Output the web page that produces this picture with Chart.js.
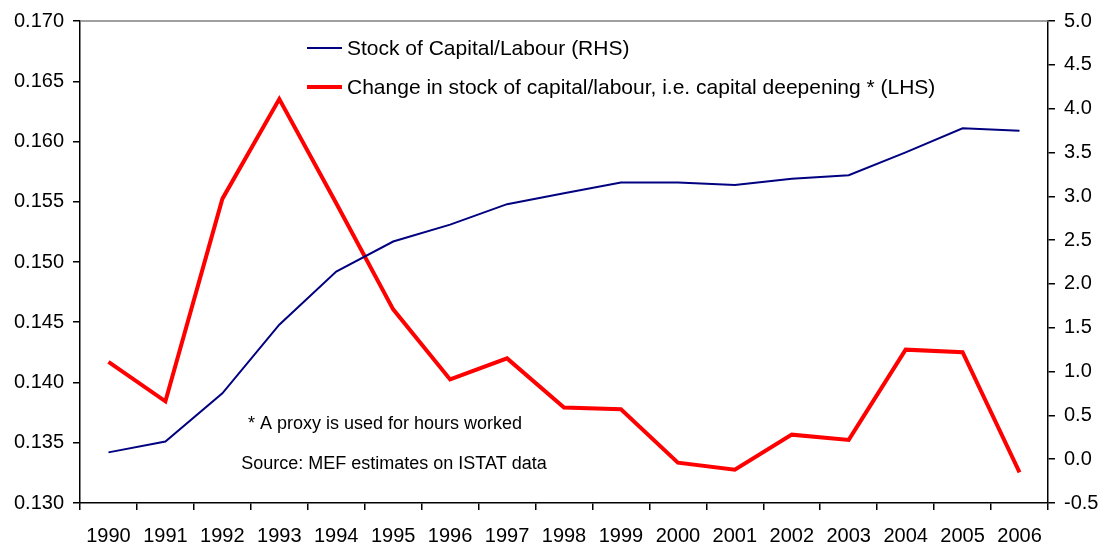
<!DOCTYPE html>
<html>
<head>
<meta charset="utf-8">
<script src="https://cdn.jsdelivr.net/npm/chart.js@4/dist/chart.umd.min.js"></script>
<style>
  html, body { margin: 0; padding: 0; background: #fff; }
  #wrap { width: 1107px; height: 549px; }
</style>
</head>
<body>
<div id="wrap"><canvas id="chart"></canvas></div>
<script>
// data
const years = ["1990", "1991", "1992", "1993", "1994", "1995", "1996", "1997", "1998",
  "1999", "2000", "2001", "2002", "2003", "2004", "2005", "2006"];
const stockValues = [0.1342, 0.1351, 0.1391, 0.1448, 0.1492, 0.1517, 0.1531, 0.1548, 0.1557,
  0.1566, 0.1566, 0.1564, 0.1569, 0.1572, 0.1591, 0.1611, 0.1609];
const changeValues = [1.11, 0.66, 2.97, 4.11, 2.92, 1.71, 0.91, 1.15, 0.59,
  0.57, -0.04, -0.12, 0.28, 0.22, 1.25, 1.22, -0.15];
const stockLabel = "Stock of Capital/Labour (RHS)";
const changeLabel = "Change in stock of capital/labour, i.e. capital deepening * (LHS)";
const notes = ["* A proxy is used for hours worked", "Source: MEF estimates on ISTAT data"];

const FONT = "'Liberation Sans', Arial, sans-serif";

// legend + notes drawn by hand inside the plot
const extras = {
  id: 'extras',
  afterDraw(chart) {
    const ctx = chart.ctx;
    const a = chart.chartArea;
    ctx.save();
    // top border
    ctx.strokeStyle = '#808080';
    ctx.lineWidth = 1.5;
    ctx.beginPath();
    ctx.moveTo(a.left, a.top);
    ctx.lineTo(a.right, a.top);
    ctx.stroke();

    const items = chart.data.datasets;
    const rows = [48, 87];
    items.forEach((ds, i) => {
      ctx.strokeStyle = ds.borderColor;
      ctx.lineWidth = ds.borderWidth;
      ctx.beginPath();
      ctx.moveTo(307, rows[i]);
      ctx.lineTo(342, rows[i]);
      ctx.stroke();
      ctx.fillStyle = '#000';
      ctx.font = '21px ' + FONT;
      ctx.textAlign = 'left';
      ctx.textBaseline = 'middle';
      ctx.fillText(ds.label, 347, rows[i] + 1);
    });

    ctx.font = '18px ' + FONT;
    ctx.textAlign = 'center';
    ctx.fillText(notes[0], 385, 424);
    ctx.fillText(notes[1], 394, 464);
    ctx.restore();
  }
};

new Chart("chart", {
  type: "line",
  data: {
    labels: years,
    datasets: [{
      label: stockLabel,
      data: stockValues,
      borderColor: "#000080",
      borderWidth: 2,
      pointRadius: 0,
      tension: 0,
      yAxisID: "y"
    }, {
      label: changeLabel,
      data: changeValues,
      borderColor: "#ff0000",
      borderWidth: 4,
      pointRadius: 0,
      tension: 0,
      yAxisID: "y1"
    }]
  },
  options: {
    responsive: true,
    maintainAspectRatio: false,
    animation: false,
    layout: { padding: { top: 17, left: 0, right: 0, bottom: 0 } },
    plugins: {
      legend: { display: false },
      tooltip: { enabled: false }
    },
    scales: {
      x: {
        offset: true,
        grid: { offset: true, drawOnChartArea: false, tickLength: 7, tickColor: '#000', lineWidth: 1.5 },
        border: { color: '#000', width: 1.5 },
        ticks: { color: '#000', font: { size: 20, family: FONT }, padding: 14, maxRotation: 0, autoSkip: false },
        afterFit(s) { s.height = 46; }
      },
      y: {
        position: 'left',
        min: 0.13,
        max: 0.17,
        grid: { drawOnChartArea: false, tickLength: 7, tickColor: '#000', lineWidth: 1.5 },
        border: { color: '#000', width: 1.5 },
        ticks: {
          stepSize: 0.005,
          color: '#000',
          font: { size: 20, family: FONT },
          padding: 9,
          callback: v => v.toFixed(3)
        },
        afterFit(s) { s.width = 80; }
      },
      y1: {
        position: 'right',
        min: -0.5,
        max: 5.0,
        grid: { drawOnChartArea: false, tickLength: 7, tickColor: '#000', lineWidth: 1.5 },
        border: { color: '#000', width: 1.5 },
        ticks: {
          stepSize: 0.5,
          color: '#000',
          font: { size: 20, family: FONT },
          padding: 9,
          callback: v => v.toFixed(1)
        },
        afterFit(s) { s.width = 59; }
      }
    }
  },
  plugins: [extras]
});
</script>
</body>
</html>
